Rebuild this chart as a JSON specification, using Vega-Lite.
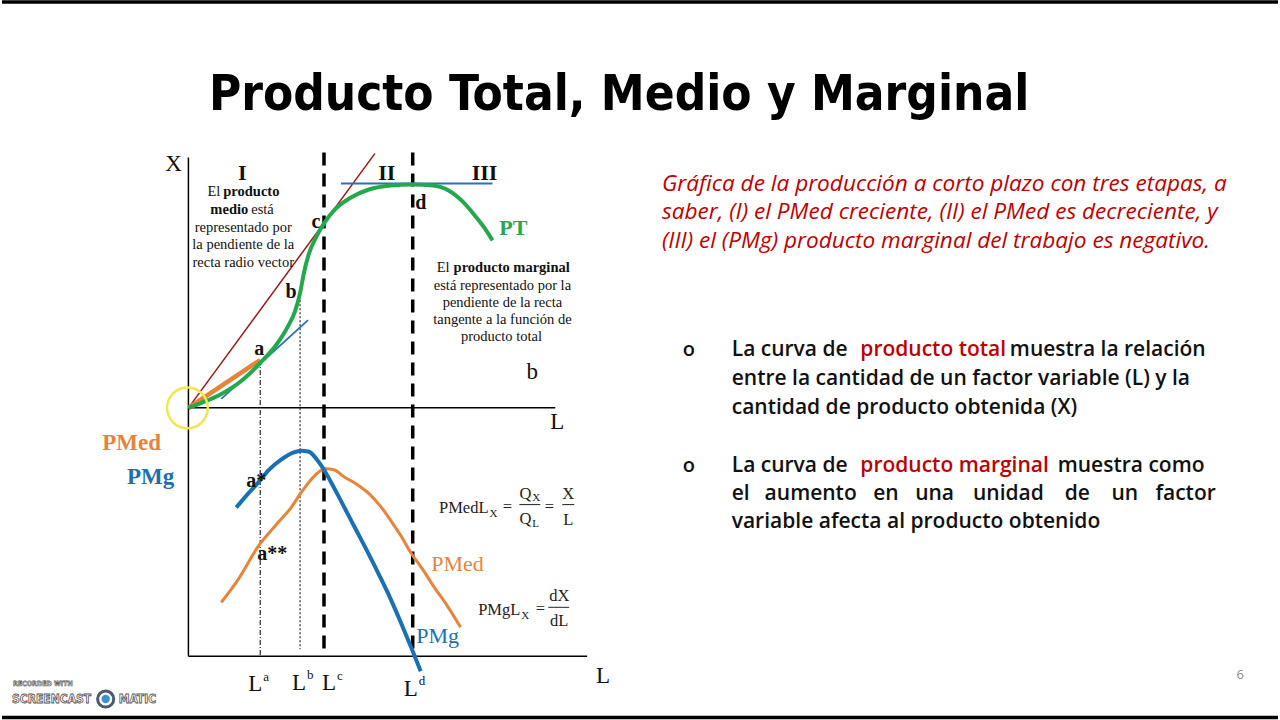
{
  "$schema": "https://vega.github.io/schema/vega-lite/v6.json",
  "width": 1280,
  "height": 720,
  "autosize": {"type": "fit", "contains": "padding"},
  "padding": 0,
  "background": "white",
  "config": {"view": {"stroke": null}},
  "encoding": {
    "x": {"field": "x", "type": "quantitative", "scale": {"domain": [0, 1280], "nice": false, "zero": false}, "axis": null},
    "y": {"field": "y", "type": "quantitative", "scale": {"domain": [0, 720], "nice": false, "zero": false, "reverse": true}, "axis": null}
  },
  "layer": [
    {"data": {"values": [{"x": 0, "y": 1, "x2": 1280, "y2": 1}, {"x": 0, "y": 718.5, "x2": 1280, "y2": 718.5}]},
     "mark": {"type": "rule", "color": "black", "strokeWidth": 3.5},
     "encoding": {"x2": {"field": "x2"}, "y2": {"field": "y2"}}},
    {"data": {"values": [{"x": 187, "y": 157, "x2": 187, "y2": 657}, {"x": 187, "y": 408, "x2": 555, "y2": 408}, {"x": 187, "y": 657, "x2": 587, "y2": 657}]},
     "mark": {"type": "rule", "color": "black", "strokeWidth": 1.5},
     "encoding": {"x2": {"field": "x2"}, "y2": {"field": "y2"}}},
    {"data": {"values": [{"x": 323, "y": 152, "x2": 323, "y2": 657}, {"x": 412, "y": 152, "x2": 412, "y2": 657}]},
     "mark": {"type": "rule", "color": "black", "strokeWidth": 3.5, "strokeDash": [13, 8]},
     "encoding": {"x2": {"field": "x2"}, "y2": {"field": "y2"}}},
    {"data": {"values": [{"x": 259, "y": 360, "x2": 259, "y2": 657}]},
     "mark": {"type": "rule", "color": "black", "strokeWidth": 1, "strokeDash": [5, 2, 1, 2]},
     "encoding": {"x2": {"field": "x2"}, "y2": {"field": "y2"}}},
    {"data": {"values": [{"x": 299, "y": 292, "x2": 299, "y2": 650}]},
     "mark": {"type": "rule", "color": "black", "strokeWidth": 1, "strokeDash": [2, 2]},
     "encoding": {"x2": {"field": "x2"}, "y2": {"field": "y2"}}},
    {"data": {"values": [{"x": 187, "y": 408, "x2": 374, "y2": 153}]},
     "mark": {"type": "rule", "color": "#A31515", "strokeWidth": 1.5},
     "encoding": {"x2": {"field": "x2"}, "y2": {"field": "y2"}}},
    {"data": {"values": [{"x": 340, "y": 183, "x2": 492, "y2": 183}, {"x": 220, "y": 399, "x2": 307, "y2": 320}]},
     "mark": {"type": "rule", "color": "#2A72B8", "strokeWidth": 1.8},
     "encoding": {"x2": {"field": "x2"}, "y2": {"field": "y2"}}},
    {"data": {"values": [{"x": 187, "y": 408, "x2": 259, "y2": 360}]},
     "mark": {"type": "rule", "color": "#E8833A", "strokeWidth": 4.5},
     "encoding": {"x2": {"field": "x2"}, "y2": {"field": "y2"}}},
    {"data": {"values": [
      {"x": 187, "y": 408}, {"x": 200, "y": 403}, {"x": 220, "y": 394}, {"x": 240, "y": 381}, {"x": 259, "y": 363},
      {"x": 275, "y": 345}, {"x": 287, "y": 326}, {"x": 294, "y": 311}, {"x": 299, "y": 293}, {"x": 303, "y": 272},
      {"x": 308, "y": 253}, {"x": 315, "y": 237}, {"x": 323, "y": 223}, {"x": 335, "y": 208}, {"x": 350, "y": 197},
      {"x": 368, "y": 189}, {"x": 390, "y": 185}, {"x": 412, "y": 184}, {"x": 432, "y": 185}, {"x": 448, "y": 190},
      {"x": 462, "y": 201}, {"x": 475, "y": 216}, {"x": 485, "y": 229}, {"x": 492, "y": 240}]},
     "mark": {"type": "line", "color": "#23A94C", "strokeWidth": 4, "interpolate": "monotone"},
     "encoding": {}},
    {"data": {"values": [
      {"x": 220, "y": 603}, {"x": 237, "y": 580}, {"x": 257, "y": 547}, {"x": 277, "y": 523}, {"x": 290, "y": 508},
      {"x": 300, "y": 493}, {"x": 310, "y": 480}, {"x": 318, "y": 472}, {"x": 325, "y": 469}, {"x": 333, "y": 470},
      {"x": 343, "y": 477}, {"x": 355, "y": 484}, {"x": 367, "y": 493}, {"x": 380, "y": 507}, {"x": 390, "y": 521},
      {"x": 400, "y": 536}, {"x": 410, "y": 553}, {"x": 422, "y": 570}, {"x": 433, "y": 587}, {"x": 447, "y": 607},
      {"x": 460, "y": 628}]},
     "mark": {"type": "line", "color": "#E8833A", "strokeWidth": 3, "interpolate": "monotone"},
     "encoding": {}},
    {"data": {"values": [
      {"x": 235, "y": 508}, {"x": 246, "y": 495}, {"x": 257, "y": 483}, {"x": 268, "y": 470}, {"x": 280, "y": 460},
      {"x": 292, "y": 453}, {"x": 300, "y": 451}, {"x": 308, "y": 452}, {"x": 316, "y": 460}, {"x": 323, "y": 470},
      {"x": 333, "y": 488}, {"x": 343, "y": 507}, {"x": 355, "y": 530}, {"x": 367, "y": 553}, {"x": 379, "y": 577},
      {"x": 390, "y": 600}, {"x": 400, "y": 623}, {"x": 410, "y": 647}, {"x": 420, "y": 672}]},
     "mark": {"type": "line", "color": "#1A6FB5", "strokeWidth": 4, "interpolate": "monotone"},
     "encoding": {}},
    {"data": {"values": [{"x": 519, "y": 505, "x2": 540, "y2": 505}, {"x": 562, "y": 505, "x2": 574, "y2": 505}, {"x": 548, "y": 608, "x2": 569, "y2": 608}]},
     "mark": {"type": "rule", "color": "#222222", "strokeWidth": 1},
     "encoding": {"x2": {"field": "x2"}, "y2": {"field": "y2"}}},
    {"data": {"values": [{"x": 186, "y": 408}]},
     "mark": {"type": "point", "shape": "circle", "size": 1660, "filled": false, "stroke": "#EEE84C", "strokeWidth": 2.5, "opacity": 1},
     "encoding": {}},
    {"data": {"values": [{"x": 619, "y": 94, "t": "Producto Total, Medio y Marginal"}]},
     "mark": {"type": "text", "align": "center", "baseline": "middle", "font": "DejaVu Sans Condensed, sans-serif", "fontSize": 49, "fontWeight": "bold", "color": "black"},
     "encoding": {"text": {"field": "t"}}},
    {"data": {"values": [{"x": 241, "y": 172, "t": "I"}, {"x": 386, "y": 172, "t": "II"}, {"x": 484, "y": 172, "t": "III"}]},
     "mark": {"type": "text", "align": "center", "baseline": "middle", "font": "Liberation Serif, serif", "fontSize": 22, "fontWeight": "bold", "color": "#111111"},
     "encoding": {"text": {"field": "t"}}},
    {"data": {"values": [{"x": 172, "y": 163, "t": "X"}, {"x": 557, "y": 422, "t": "L"}, {"x": 603, "y": 677, "t": "L"}, {"x": 532, "y": 372, "t": "b"}]},
     "mark": {"type": "text", "align": "center", "baseline": "middle", "font": "Liberation Serif, serif", "fontSize": 23, "color": "#111111"},
     "encoding": {"text": {"field": "t"}}},
    {"data": {"values": [{"x": 315, "y": 222, "t": "c"}, {"x": 420, "y": 203, "t": "d"}, {"x": 290, "y": 292, "t": "b"}, {"x": 258, "y": 349, "t": "a"}, {"x": 255, "y": 481, "t": "a*"}, {"x": 271, "y": 555, "t": "a**"}]},
     "mark": {"type": "text", "align": "center", "baseline": "middle", "font": "Liberation Serif, serif", "fontSize": 20, "fontWeight": "bold", "color": "#111111"},
     "encoding": {"text": {"field": "t"}}},
    {"data": {"values": [{"x": 219, "y": 192, "t": "El"}, {"x": 449, "y": 268, "t": "El"}]},
     "mark": {"type": "text", "align": "right", "baseline": "middle", "font": "Liberation Serif, serif", "fontSize": 14.5, "color": "#111111"},
     "encoding": {"text": {"field": "t"}}},
    {"data": {"values": [{"x": 250, "y": 210, "t": "está"}]},
     "mark": {"type": "text", "align": "left", "baseline": "middle", "font": "Liberation Serif, serif", "fontSize": 14.5, "color": "#111111"},
     "encoding": {"text": {"field": "t"}}},
    {"data": {"values": [{"x": 222, "y": 192, "t": "producto"}, {"x": 453, "y": 268, "t": "producto marginal"}]},
     "mark": {"type": "text", "align": "left", "baseline": "middle", "font": "Liberation Serif, serif", "fontSize": 14.5, "fontWeight": "bold", "color": "#111111"},
     "encoding": {"text": {"field": "t"}}},
    {"data": {"values": [{"x": 247, "y": 210, "t": "medio"}]},
     "mark": {"type": "text", "align": "right", "baseline": "middle", "font": "Liberation Serif, serif", "fontSize": 14.5, "fontWeight": "bold", "color": "#111111"},
     "encoding": {"text": {"field": "t"}}},
    {"data": {"values": [{"x": 242, "y": 228, "t": "representado por"}, {"x": 242, "y": 245, "t": "la pendiente de la"}, {"x": 242, "y": 263, "t": "recta radio vector"},
                         {"x": 502, "y": 286, "t": "está representado por la"}, {"x": 502, "y": 303, "t": "pendiente de la recta"}, {"x": 502, "y": 320, "t": "tangente a la función de"}, {"x": 501, "y": 337, "t": "producto total"}]},
     "mark": {"type": "text", "align": "center", "baseline": "middle", "font": "Liberation Serif, serif", "fontSize": 14.5, "color": "#111111"},
     "encoding": {"text": {"field": "t"}}},
    {"data": {"values": [{"x": 513, "y": 228, "t": "PT"}]},
     "mark": {"type": "text", "align": "center", "baseline": "middle", "font": "Liberation Serif, serif", "fontSize": 22, "fontWeight": "bold", "color": "#23A94C"},
     "encoding": {"text": {"field": "t"}}},
    {"data": {"values": [{"x": 130, "y": 443, "t": "PMed"}]},
     "mark": {"type": "text", "align": "center", "baseline": "middle", "font": "Liberation Serif, serif", "fontSize": 23, "fontWeight": "bold", "color": "#E8833A"},
     "encoding": {"text": {"field": "t"}}},
    {"data": {"values": [{"x": 149, "y": 477, "t": "PMg"}]},
     "mark": {"type": "text", "align": "center", "baseline": "middle", "font": "Liberation Serif, serif", "fontSize": 23, "fontWeight": "bold", "color": "#1A6FB5"},
     "encoding": {"text": {"field": "t"}}},
    {"data": {"values": [{"x": 457, "y": 565, "t": "PMed"}]},
     "mark": {"type": "text", "align": "center", "baseline": "middle", "font": "Liberation Serif, serif", "fontSize": 22, "color": "#E8833A"},
     "encoding": {"text": {"field": "t"}}},
    {"data": {"values": [{"x": 437, "y": 637, "t": "PMg"}]},
     "mark": {"type": "text", "align": "center", "baseline": "middle", "font": "Liberation Serif, serif", "fontSize": 22, "color": "#1A6FB5"},
     "encoding": {"text": {"field": "t"}}},
    {"data": {"values": [{"x": 488, "y": 508, "t": "PMedL"}, {"x": 520, "y": 611, "t": "PMgL"}, {"x": 531, "y": 494, "t": "Q"}, {"x": 531, "y": 519, "t": "Q"}]},
     "mark": {"type": "text", "align": "right", "baseline": "middle", "font": "Liberation Serif, serif", "fontSize": 16.5, "color": "#222222"},
     "encoding": {"text": {"field": "t"}}},
    {"data": {"values": [{"x": 507, "y": 507, "t": "="}, {"x": 549, "y": 507, "t": "="}, {"x": 568, "y": 494, "t": "X"}, {"x": 568, "y": 520, "t": "L"}, {"x": 540, "y": 610, "t": "="}, {"x": 559, "y": 597, "t": "dX"}, {"x": 559, "y": 622, "t": "dL"}]},
     "mark": {"type": "text", "align": "center", "baseline": "middle", "font": "Liberation Serif, serif", "fontSize": 16.5, "color": "#222222"},
     "encoding": {"text": {"field": "t"}}},
    {"data": {"values": [{"x": 489, "y": 514, "t": "X"}, {"x": 521, "y": 617, "t": "X"}, {"x": 532, "y": 498, "t": "X"}, {"x": 532, "y": 524, "t": "L"}]},
     "mark": {"type": "text", "align": "left", "baseline": "middle", "font": "Liberation Serif, serif", "fontSize": 11, "color": "#222222"},
     "encoding": {"text": {"field": "t"}}},
    {"data": {"values": [{"x": 254, "y": 685, "t": "L"}, {"x": 298, "y": 684, "t": "L"}, {"x": 328, "y": 684, "t": "L"}, {"x": 410, "y": 690, "t": "L"}]},
     "mark": {"type": "text", "align": "center", "baseline": "middle", "font": "Liberation Serif, serif", "fontSize": 23, "color": "#111111"},
     "encoding": {"text": {"field": "t"}}},
    {"data": {"values": [{"x": 262, "y": 678, "t": "a"}, {"x": 306, "y": 676, "t": "b"}, {"x": 336, "y": 677, "t": "c"}, {"x": 418, "y": 682, "t": "d"}]},
     "mark": {"type": "text", "align": "left", "baseline": "middle", "font": "Liberation Serif, serif", "fontSize": 13, "color": "#111111"},
     "encoding": {"text": {"field": "t"}}},
    {"data": {"values": [{"x": 662, "y": 184, "t": "Gráfica de la producción a corto plazo con tres etapas, a"}, {"x": 662, "y": 212, "t": "saber, (I) el PMed creciente, (II) el PMed es decreciente, y"}, {"x": 662, "y": 241, "t": "(III) el (PMg) producto marginal del trabajo es negativo."}]},
     "mark": {"type": "text", "align": "left", "baseline": "middle", "font": "Open Sans, sans-serif", "fontSize": 22.6, "fontStyle": "italic", "color": "#C00000"},
     "encoding": {"text": {"field": "t"}}},
    {"data": {"values": [{"x": 689, "y": 350, "t": "o"}, {"x": 689, "y": 466, "t": "o"}]},
     "mark": {"type": "text", "align": "center", "baseline": "middle", "font": "Open Sans, sans-serif", "fontSize": 20, "fontWeight": 600, "color": "#111111"},
     "encoding": {"text": {"field": "t"}}},
    {"data": {"values": [
      {"x": 732, "y": 350, "t": "La curva de"}, {"x": 1011, "y": 350, "t": "muestra la relación"},
      {"x": 732, "y": 379, "t": "entre la cantidad de un factor variable (L) y la"},
      {"x": 732, "y": 408, "t": "cantidad de producto obtenida (X)"},
      {"x": 732, "y": 466, "t": "La curva de"}, {"x": 1059, "y": 466, "t": "muestra como"},
      {"x": 732, "y": 494, "t": "el"}, {"x": 765, "y": 494, "t": "aumento"}, {"x": 874, "y": 494, "t": "en"}, {"x": 916, "y": 494, "t": "una"},
      {"x": 974, "y": 494, "t": "unidad"}, {"x": 1066, "y": 494, "t": "de"}, {"x": 1113, "y": 494, "t": "un"}, {"x": 1157, "y": 494, "t": "factor"},
      {"x": 732, "y": 522, "t": "variable afecta al producto obtenido"}]},
     "mark": {"type": "text", "align": "left", "baseline": "middle", "font": "Open Sans, sans-serif", "fontSize": 21, "fontWeight": 600, "color": "#111111"},
     "encoding": {"text": {"field": "t"}}},
    {"data": {"values": [{"x": 861, "y": 350, "t": "producto total"}, {"x": 861, "y": 466, "t": "producto marginal"}]},
     "mark": {"type": "text", "align": "left", "baseline": "middle", "font": "Open Sans, sans-serif", "fontSize": 21, "fontWeight": 600, "color": "#C00000"},
     "encoding": {"text": {"field": "t"}}},
    {"data": {"values": [{"x": 1242, "y": 676, "t": "6"}]},
     "mark": {"type": "text", "align": "center", "baseline": "middle", "font": "Open Sans, sans-serif", "fontSize": 13, "color": "#8A8A8A"},
     "encoding": {"text": {"field": "t"}}},
    {"data": {"values": [{"x": 11, "y": 685, "t": "RECORDED WITH"}]},
     "mark": {"type": "text", "align": "left", "baseline": "middle", "font": "DejaVu Sans Condensed, sans-serif", "fontSize": 7, "fontWeight": "bold", "color": "white", "stroke": "#555555", "strokeWidth": 0.6},
     "encoding": {"text": {"field": "t"}}},
    {"data": {"values": [{"x": 10, "y": 700, "t": "SCREENCAST"}, {"x": 117, "y": 700, "t": "MATIC"}]},
     "mark": {"type": "text", "align": "left", "baseline": "middle", "font": "DejaVu Sans Condensed, sans-serif", "fontSize": 12, "fontWeight": "bold", "color": "white", "stroke": "#555555", "strokeWidth": 0.8},
     "encoding": {"text": {"field": "t"}}},
    {"data": {"values": [{"x": 104, "y": 700}]},
     "mark": {"type": "point", "shape": "circle", "size": 260, "filled": false, "stroke": "#4A5A6A", "strokeWidth": 3, "opacity": 1},
     "encoding": {}},
    {"data": {"values": [{"x": 104, "y": 700}]},
     "mark": {"type": "point", "shape": "circle", "size": 70, "filled": true, "color": "#3E8FD8", "opacity": 1},
     "encoding": {}}
  ]
}
